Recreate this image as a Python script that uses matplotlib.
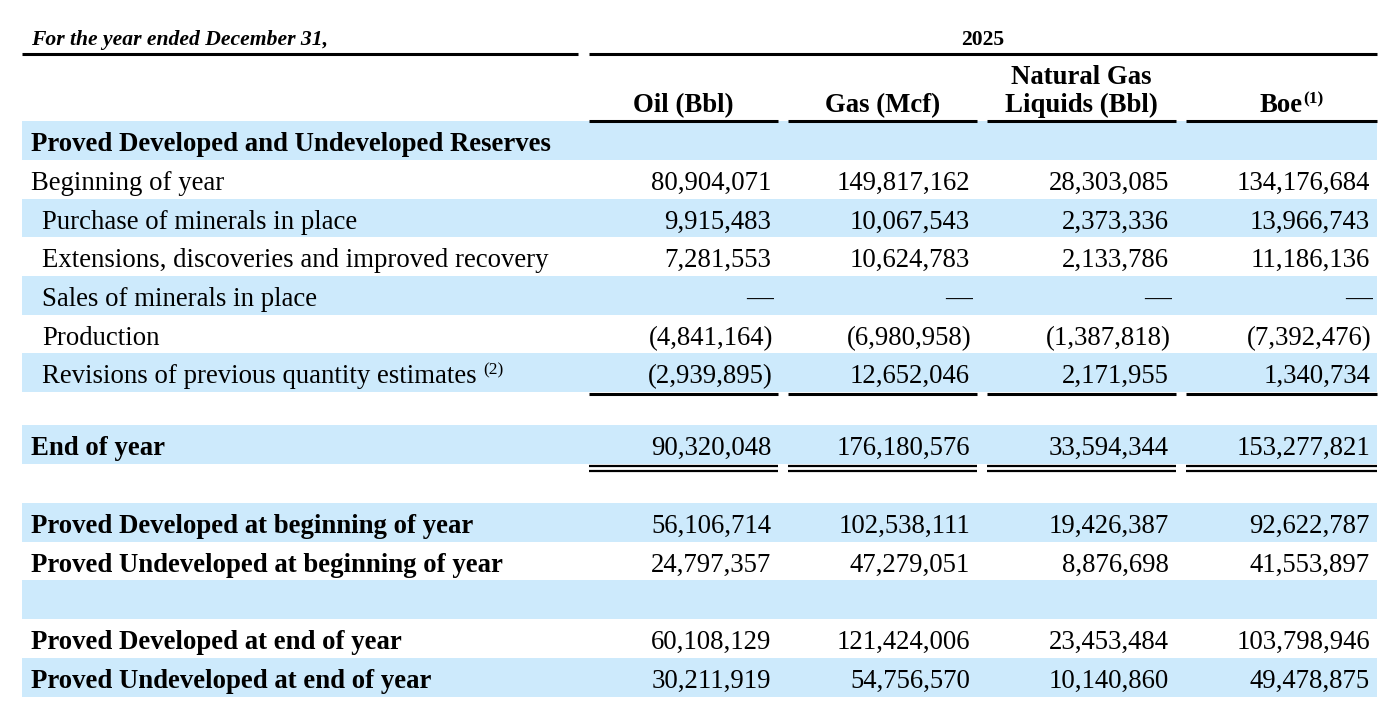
import matplotlib
matplotlib.use("Agg")
import matplotlib.pyplot as plt

# table data
labels = [
    "Proved Developed and Undeveloped Reserves",
    "Beginning of year",
    "Purchase of minerals in place",
    "Extensions, discoveries and improved recovery",
    "Sales of minerals in place",
    "Production",
    "Revisions of previous quantity estimates",
    "",
    "End of year",
    "",
    "Proved Developed at beginning of year",
    "Proved Undeveloped at beginning of year",
    "",
    "Proved Developed at end of year",
    "Proved Undeveloped at end of year",
]
bold_rows = [0, 8, 10, 11, 13, 14]
indent_rows = [2, 3, 4, 5, 6]
columns = ["Oil (Bbl)", "Gas (Mcf)", "Natural Gas\nLiquids (Bbl)", "Boe"]
year = "2025"
oil = ["", "80,904,071", "9,915,483", "7,281,553", "\u2014", "(4,841,164)", "(2,939,895)", "",
       "90,320,048", "", "56,106,714", "24,797,357", "", "60,108,129", "30,211,919"]
gas = ["", "149,817,162", "10,067,543", "10,624,783", "\u2014", "(6,980,958)", "12,652,046", "",
       "176,180,576", "", "102,538,111", "47,279,051", "", "121,424,006", "54,756,570"]
ngl = ["", "28,303,085", "2,373,336", "2,133,786", "\u2014", "(1,387,818)", "2,171,955", "",
       "33,594,344", "", "19,426,387", "8,876,698", "", "23,453,484", "10,140,860"]
boe = ["", "134,176,684", "13,966,743", "11,186,136", "\u2014", "(7,392,476)", "1,340,734", "",
       "153,277,821", "", "92,622,787", "41,553,897", "", "103,798,946", "49,478,875"]

# layout in pixels
W, H = 1396, 714
row_tops = [121, 160, 199, 237, 276, 315, 353, 392, 425, 464, 503, 542, 580, 619, 658, 697]
segs = [(589, 778), (788, 977), (987, 1176), (1186, 1377)]
shade = "#CDEAFC"
font = "Liberation Serif"
fs = 19.3
lw = 2.2

fig = plt.figure(figsize=(W / 100, H / 100), dpi=100)
ax = fig.add_axes([0, 0, 1, 1])
ax.set_xlim(0, W)
ax.set_ylim(H, 0)
ax.axis("off")

# shaded bands
for i in range(len(labels)):
    top, bot = row_tops[i], row_tops[i + 1]
    if i % 2 == 0:
        ax.fill_between([22, 1377], top, bot, color=shade, lw=0)

# top header
ax.text(31, 45, "For the year ended December 31,", fontfamily=font, fontsize=15.6,
        fontweight="bold", fontstyle="italic", va="baseline", ha="left")
ax.text((589 + 1377) / 2, 45, year, fontfamily=font, fontsize=15.6,
        fontweight="bold", va="baseline", ha="center")
ax.hlines(54, 22, 578, color="black", lw=lw)
ax.hlines(54, 589, 1377, color="black", lw=lw)

# column headers
for (x0, x1), name in zip(segs, columns):
    cx = (x0 + x1) / 2
    parts = name.split("\n")
    for k, p in enumerate(reversed(parts)):
        ax.text(cx, 112 - 28 * k, p, fontfamily=font, fontsize=fs,
                fontweight="bold", va="baseline", ha="center")
    ax.hlines(121, x0, x1, color="black", lw=lw)

fig.canvas.draw()
renderer = fig.canvas.get_renderer()
inv = ax.transData.inverted()

# superscript on Boe
boe_t = [t for t in ax.texts if t.get_text() == "Boe"][0]
bb = boe_t.get_window_extent(renderer)
xr = inv.transform((bb.x1, bb.y0))[0]
ax.text(xr, 103, "(1)", fontfamily=font, fontsize=12.5, fontweight="bold",
        va="baseline", ha="left")

# body rows
for i, lab in enumerate(labels):
    base = row_tops[i] + 30
    if lab:
        x = 42 if i in indent_rows else 31
        t = ax.text(x, base, lab, fontfamily=font, fontsize=fs,
                    fontweight="bold" if i in bold_rows else "normal",
                    va="baseline", ha="left")
        if i == 6:
            bb = t.get_window_extent(renderer)
            xr = inv.transform((bb.x1, bb.y0))[0]
            ax.text(xr + 7, base - 9, "(2)", fontfamily=font, fontsize=12.5,
                    va="baseline", ha="left")
    for (x0, x1), col in zip(segs, [oil, gas, ngl, boe]):
        v = col[i]
        if v:
            xr = x1 - 5 if v.startswith("(") or v == "\u2014" else x1 - 7
            ax.text(xr, base, v, fontfamily=font, fontsize=fs, va="baseline", ha="right")

# rules
for x0, x1 in segs:
    ax.hlines(393.5, x0, x1, color="black", lw=lw)
    ax.hlines(465.5, x0, x1, color="black", lw=1.6)
    ax.hlines(470.5, x0, x1, color="black", lw=1.6)

fig.savefig("out.png", dpi=100)
